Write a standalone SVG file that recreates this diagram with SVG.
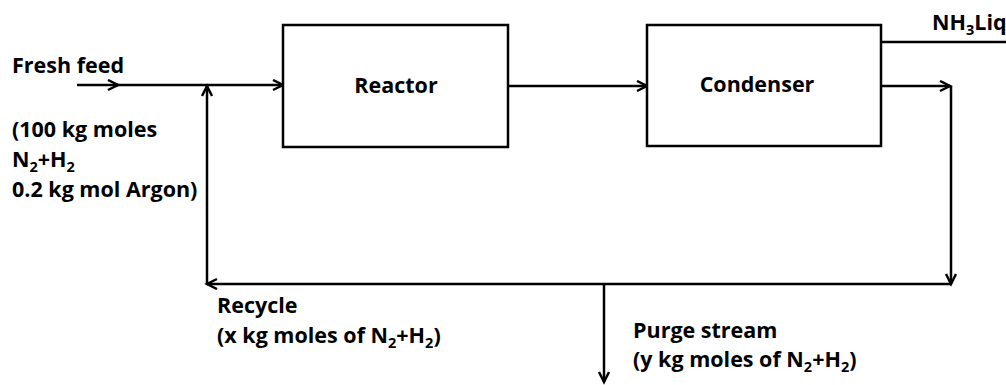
<svg xmlns="http://www.w3.org/2000/svg" width="1006" height="385" viewBox="0 0 1006 385">
<style>
.box{fill:#fff;stroke:#000;stroke-width:2.5}
.ln{fill:none;stroke:#000;stroke-width:2.5}
.t{font-family:"Open Sans","Liberation Sans",sans-serif;font-weight:bold;font-size:21.5px;fill:#000}
.c{text-anchor:middle}
.s{font-size:14.5px}
</style>
<defs>
<marker id="ah" markerUnits="userSpaceOnUse" markerWidth="14" markerHeight="14" refX="11" refY="6" orient="auto">
<path d="M1,1 L11,6 L1,11" fill="none" stroke="#000" stroke-width="2.5"/>
</marker>
</defs>
<rect width="1006" height="385" fill="#fff"/>
<g id="connectors">
<line class="ln" x1="77" y1="85" x2="118" y2="85" marker-end="url(#ah)"/>
<line class="ln" x1="116" y1="85" x2="283" y2="85" marker-end="url(#ah)"/>
<line class="ln" x1="508" y1="86" x2="647" y2="86" marker-end="url(#ah)"/>
<line class="ln" x1="881" y1="42" x2="1006" y2="42"/>
<line class="ln" x1="881" y1="86" x2="950" y2="86" marker-end="url(#ah)"/>
<line class="ln" x1="951" y1="86" x2="951" y2="284" marker-end="url(#ah)"/>
<line class="ln" x1="951" y1="284" x2="207" y2="284" marker-end="url(#ah)"/>
<line class="ln" x1="207" y1="284" x2="207" y2="86" marker-end="url(#ah)"/>
<line class="ln" x1="604" y1="284" x2="604" y2="382" marker-end="url(#ah)"/>
</g>
<g id="reactor">
<rect class="box" x="283" y="25" width="225" height="122"/>
<text class="t c" x="396" y="93">Reactor</text>
</g>
<g id="condenser">
<rect class="box" x="647" y="25" width="234" height="121"/>
<text class="t c" x="757" y="92">Condenser</text>
</g>
<g id="labels">
<text class="t" x="932" y="30">NH<tspan class="s" dy="5">3</tspan><tspan dy="-5">Liq</tspan></text>
<text class="t" x="12" y="73">Fresh feed</text>
<text class="t" x="12" y="137">(100 kg moles</text>
<text class="t" x="12" y="167">N<tspan class="s" dy="5">2</tspan><tspan dy="-5">+H</tspan><tspan class="s" dy="5">2</tspan></text>
<text class="t" x="12" y="197">0.2 kg mol Argon)</text>
<text class="t" x="217" y="313">Recycle</text>
<text class="t" x="217" y="343">(x kg moles of N<tspan class="s" dy="5">2</tspan><tspan dy="-5">+H</tspan><tspan class="s" dy="5">2</tspan><tspan dy="-5">)</tspan></text>
<text class="t" x="633" y="338">Purge stream</text>
<text class="t" x="633" y="367">(y kg moles of N<tspan class="s" dy="5">2</tspan><tspan dy="-5">+H</tspan><tspan class="s" dy="5">2</tspan><tspan dy="-5">)</tspan></text>
</g>
</svg>
